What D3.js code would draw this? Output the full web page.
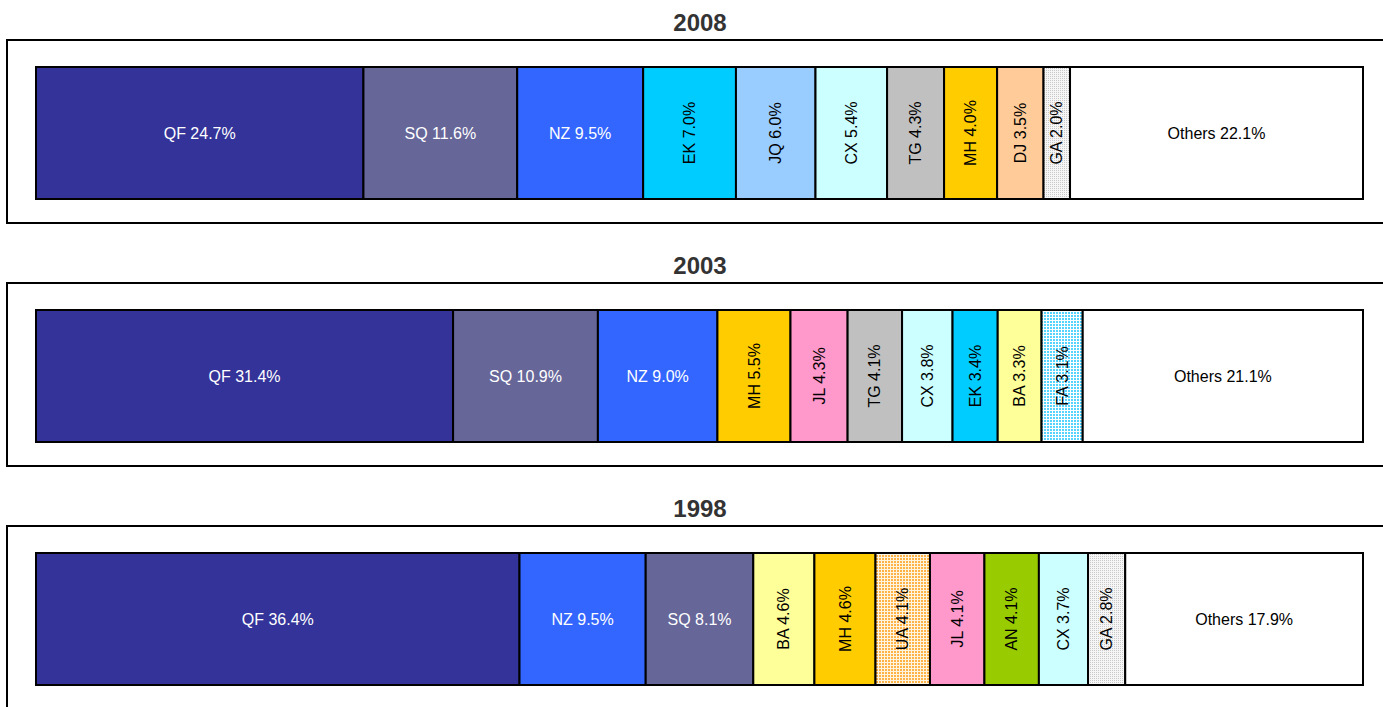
<!DOCTYPE html>
<html>
<head>
<meta charset="utf-8">
<script src="https://cdn.jsdelivr.net/npm/d3@7"></script>
<style>
  body { margin: 0; background: #fff; }
  text { font-family: "Liberation Sans", Arial, sans-serif; }
</style>
</head>
<body>
<script>
// market share by carrier, one panel per year
const years = ['2008', '2003', '1998'];

const carriers2008 = ['QF', 'SQ', 'NZ', 'EK', 'JQ', 'CX', 'TG', 'MH', 'DJ', 'GA', 'Others'];
const shares2008 = [24.7, 11.6, 9.5, 7.0, 6.0, 5.4, 4.3, 4.0, 3.5, 2.0, 22.1];

const carriers2003 = ['QF', 'SQ', 'NZ', 'MH', 'JL', 'TG', 'CX', 'EK', 'BA', 'FA', 'Others'];
const shares2003 = [31.4, 10.9, 9.0, 5.5, 4.3, 4.1, 3.8, 3.4, 3.3, 3.1, 21.1];

const carriers1998 = ['QF', 'NZ', 'SQ', 'BA', 'MH', 'UA', 'JL', 'AN', 'CX', 'GA', 'Others'];
const shares1998 = [36.4, 9.5, 8.1, 4.6, 4.6, 4.1, 4.1, 4.1, 3.7, 2.8, 17.9];

const carrierColors = {
  QF: '#333399', SQ: '#666699', NZ: '#3366FF', EK: '#00CCFF', JQ: '#99CCFF',
  CX: '#CCFFFF', TG: '#C0C0C0', MH: '#FFCC00', DJ: '#FFCC99', GA: 'url(#dotGray)',
  JL: '#FF99CC', BA: '#FFFF99', FA: 'url(#dotBlue)', UA: 'url(#dotOrange)',
  AN: '#99CC00', Others: '#FFFFFF'
};
const whiteText = ['QF', 'SQ', 'NZ'];

const panels = [
  { year: years[0], carriers: carriers2008, shares: shares2008 },
  { year: years[1], carriers: carriers2003, shares: shares2003 },
  { year: years[2], carriers: carriers1998, shares: shares1998 }
];

const width = 1383, height = 707;
const panelStep = 243;
const barLeft = 36, barRight = 1363, barTop = 67, barH = 132;

const svg = d3.select(document.body).append('svg')
  .attr('width', width)
  .attr('height', height);

// dotted fills
const defs = svg.append('defs');
function dotPattern(id, dot, bg, size, dotSize) {
  const p = defs.append('pattern')
    .attr('id', id)
    .attr('patternUnits', 'userSpaceOnUse')
    .attr('width', size)
    .attr('height', size);
  p.append('rect').attr('width', size).attr('height', size).attr('fill', bg);
  p.append('rect').attr('width', dotSize).attr('height', dotSize).attr('fill', dot);
}
dotPattern('dotGray', '#C8C8C8', '#F6F6F6', 2, 1);
dotPattern('dotBlue', '#55D4FF', '#FFFFFF', 3, 2);
dotPattern('dotOrange', '#FFB347', '#FFF4E0', 3, 2);

const x = d3.scaleLinear().range([barLeft, barRight]);

panels.forEach((p, i) => {
  const g = svg.append('g').attr('transform', `translate(0,${i * panelStep})`);

  // frame
  g.append('rect')
    .attr('x', 7)
    .attr('y', 40)
    .attr('width', 1400)
    .attr('height', 183)
    .attr('fill', 'none')
    .attr('stroke', '#000')
    .attr('stroke-width', 2);

  g.append('text')
    .attr('x', 700)
    .attr('y', 31)
    .attr('text-anchor', 'middle')
    .attr('font-size', 24)
    .attr('font-weight', 'bold')
    .attr('fill', '#333')
    .text(p.year);

  let acc = 0;
  const segs = p.carriers.map((c, k) => {
    const s = { carrier: c, share: p.shares[k], start: acc };
    acc += p.shares[k];
    return s;
  });
  x.domain([0, acc]);

  const seg = g.selectAll('.seg').data(segs).enter().append('g').classed('seg', true);

  seg.append('rect')
    .attr('x', d => x(d.start))
    .attr('y', barTop)
    .attr('width', d => x(d.start + d.share) - x(d.start))
    .attr('height', barH)
    .attr('fill', d => carrierColors[d.carrier])
    .attr('stroke', '#000')
    .attr('stroke-width', 2);

  seg.append('text')
    .attr('transform', d => {
      const cx = (x(d.start) + x(d.start + d.share)) / 2;
      const cy = barTop + barH / 2;
      const w = x(d.start + d.share) - x(d.start);
      return `translate(${cx},${cy})` + (w < 100 ? ' rotate(-90)' : '');
    })
    .attr('text-anchor', 'middle')
    .attr('dy', '0.35em')
    .attr('font-size', 16)
    .attr('fill', d => whiteText.includes(d.carrier) ? '#fff' : '#000')
    .text(d => `${d.carrier} ${d.share.toFixed(1)}%`);
});
</script>
</body>
</html>
